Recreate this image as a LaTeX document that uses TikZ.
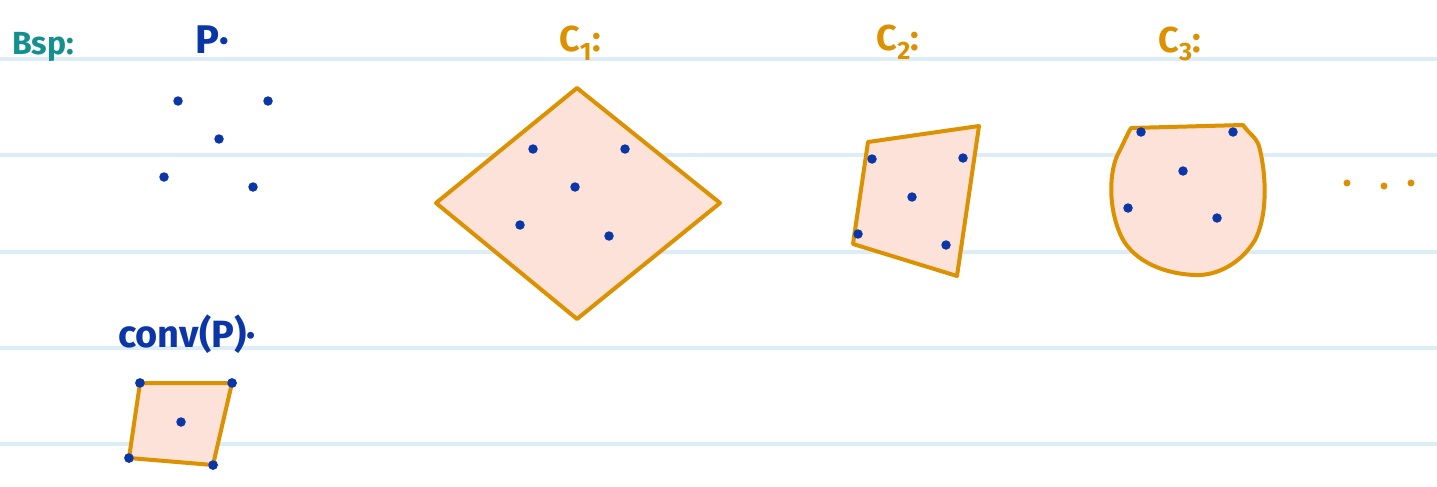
\documentclass[tikz,border=0pt]{standalone}
\usepackage{fontspec}
\setmainfont{Fira Sans}
\definecolor{rule}{HTML}{DCEDF8}
\definecolor{teal}{HTML}{14918E}
\definecolor{ink}{HTML}{0B36A8}
\definecolor{ora}{HTML}{DB9100}
\definecolor{pfill}{HTML}{FCE2D8}
\begin{document}
\begin{tikzpicture}[x=1pt,y=-1pt,
  pt/.style={circle,fill=ink,inner sep=0pt,minimum size=9.5pt},
  hull/.style={draw=ora,line width=4pt,fill=pfill,line join=round},
  odot/.style={circle,fill=ora,inner sep=0pt,minimum size=7pt},
  lbl/.style={inner sep=0pt,font=\fontsize{36}{36}\selectfont\mdseries}]
\useasboundingbox (0,0) rectangle (1437,487);
\fill[white] (0,0) rectangle (1437,487);
\foreach \y in {59,155,252,348,444}
  \draw[rule,line width=3.5pt] (0,\y) -- (1437,\y);

% labels
\node[lbl,text=teal,anchor=west,font=\fontsize{32}{32}\selectfont\bfseries] (bsp) at (12,47) {Bsp:};
\node[lbl,text=ink,font=\fontsize{40}{40}\selectfont\bfseries] (lp) at (212,40) {P·};
\node[lbl,text=ora,font=\fontsize{36}{36}\selectfont\bfseries] (lc1) at (580,43) {C\textsubscript{1}:};
\node[lbl,text=ora,font=\fontsize{36}{36}\selectfont\bfseries] (lc2) at (898,42) {C\textsubscript{2}:};
\node[lbl,text=ora,font=\fontsize{36}{36}\selectfont\bfseries] (lc3) at (1180,44) {C\textsubscript{3}:};
\node[lbl,text=ink,font=\fontsize{38}{38}\selectfont\bfseries] (lconv) at (187,334) {conv(P)·};

% P
\foreach \n/\x/\y in {p1/178/101,p2/268/101,p3/219/139,p4/164/177,p5/253/187}
  \node[pt] (\n) at (\x,\y) {};

% C1
\coordinate (a1) at (577,88);
\coordinate (a2) at (720,203);
\coordinate (a3) at (577,319);
\coordinate (a4) at (436,203);
\draw[hull] (a1) -- (a2) -- (a3) -- (a4) -- cycle;
\foreach \n/\x/\y in {q1/533/149,q2/625/149,q3/575/187,q4/520/225,q5/609/236}
  \node[pt] (\n) at (\x,\y) {};

% C2
\coordinate (b1) at (868,142);
\coordinate (b2) at (979,126);
\coordinate (b3) at (957,276);
\coordinate (b4) at (853,244);
\draw[hull] (b1) -- (b2) -- (b3) -- (b4) -- cycle;
\foreach \n/\x/\y in {r1/872/159,r2/963/158,r3/912/197,r4/858/234,r5/946/245}
  \node[pt] (\n) at (\x,\y) {};

% C3
\coordinate (c1) at (1131,128);
\coordinate (c2) at (1243,125);
\draw[hull] (c1) -- (c2)
  .. controls (1250,135) and (1258,138) .. (1260,150)
  .. controls (1266,175) and (1268,215) .. (1255,240)
  .. controls (1240,265) and (1215,276) .. (1195,275)
  .. controls (1165,274) and (1135,262) .. (1122,238)
  .. controls (1108,210) and (1108,170) .. (1120,150)
  .. controls (1124,142) and (1127,135) .. (c1) -- cycle;
\foreach \n/\x/\y in {s1/1141/132,s2/1233/132,s3/1183/171,s4/1128/208,s5/1217/218}
  \node[pt] (\n) at (\x,\y) {};

% dots
\node[odot] (d1) at (1347,183) {};
\node[odot] (d2) at (1384,186) {};
\node[odot] (d3) at (1411,183) {};

% conv(P)
\node[pt] (v1) at (140,383) {};
\node[pt] (v2) at (232,383) {};
\node[pt] (v3) at (213,465) {};
\node[pt] (v4) at (129,458) {};
\draw[hull] (v1.center) -- (v2.center) -- (v3.center) -- (v4.center) -- cycle;
\foreach \n in {v1,v2,v3,v4}
  \node[pt] at (\n) {};
\node[pt] (v5) at (181,422) {};
\end{tikzpicture}
\end{document}
